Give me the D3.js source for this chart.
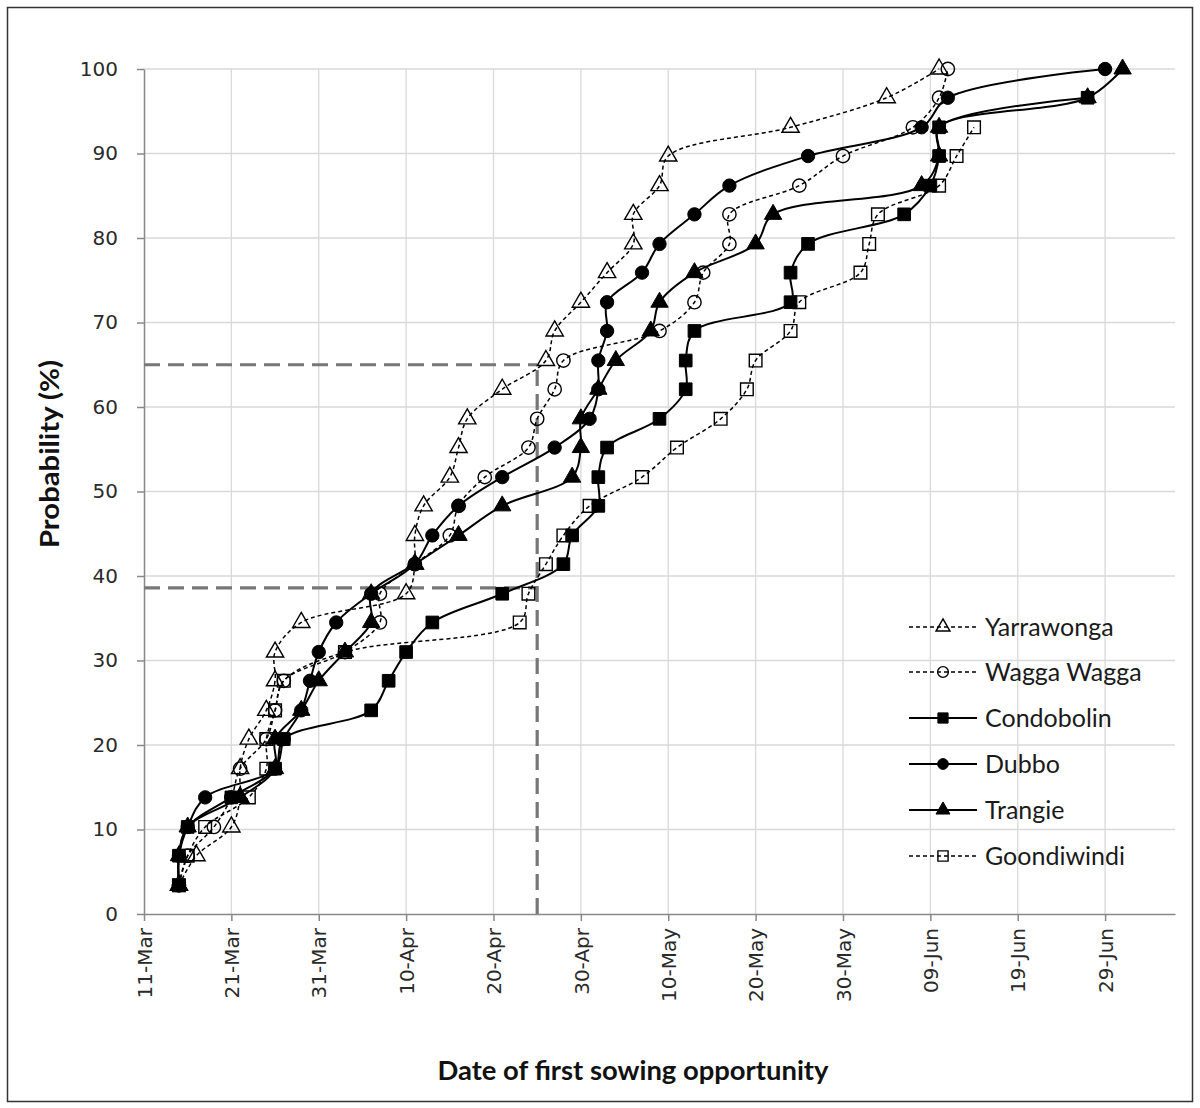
<!DOCTYPE html>
<html><head><meta charset="utf-8">
<script src="https://cdn.jsdelivr.net/npm/d3@7"></script>
<style>body{margin:0;background:#fff}</style>
</head><body>
<svg id="chart" width="1200" height="1108"></svg>
<script>
// ---------------- DATA ----------------
const probability = [3.4, 6.9, 10.3, 13.8, 17.2, 20.7, 24.1, 27.6, 31.0, 34.5, 37.9, 41.4, 44.8, 48.3,
  51.7, 55.2, 58.6, 62.1, 65.5, 69.0, 72.4, 75.9, 79.3, 82.8, 86.2, 89.7, 93.1, 96.6, 100];

const tickLabels = ["11-Mar","21-Mar","31-Mar","10-Apr","20-Apr","30-Apr","10-May","20-May","30-May","09-Jun","19-Jun","29-Jun"];
const yTicks = [0,10,20,30,40,50,60,70,80,90,100];
const axisStart = "11-Mar", axisEnd = "07-Jul";

const seriesNames = ["Yarrawonga","Wagga Wagga","Condobolin","Dubbo","Trangie","Goondiwindi"];

const yarrawonga = ["15-Mar","17-Mar","21-Mar","22-Mar","22-Mar","23-Mar","25-Mar","26-Mar","26-Mar","29-Mar",
  "10-Apr","11-Apr","11-Apr","12-Apr","15-Apr","16-Apr","17-Apr","21-Apr","26-Apr","27-Apr","30-Apr",
  "03-May","06-May","06-May","09-May","10-May","24-May","04-Jun","10-Jun"];
const waggaWagga = ["15-Mar","16-Mar","19-Mar","21-Mar","22-Mar","25-Mar","26-Mar","27-Mar","03-Apr","07-Apr",
  "07-Apr","11-Apr","15-Apr","16-Apr","19-Apr","24-Apr","25-Apr","27-Apr","28-Apr","09-May","13-May",
  "14-May","17-May","17-May","25-May","30-May","07-Jun","10-Jun","11-Jun"];
const condobolin = ["15-Mar","15-Mar","16-Mar","21-Mar","26-Mar","27-Mar","06-Apr","08-Apr","10-Apr","13-Apr",
  "21-Apr","28-Apr","29-Apr","02-May","02-May","03-May","09-May","12-May","12-May","13-May","24-May",
  "24-May","26-May","06-Jun","09-Jun","10-Jun","10-Jun","27-Jun"];
const dubbo = ["15-Mar","15-Mar","16-Mar","18-Mar","26-Mar","27-Mar","29-Mar","30-Mar","31-Mar","02-Apr",
  "06-Apr","11-Apr","13-Apr","16-Apr","21-Apr","27-Apr","01-May","02-May","02-May","03-May","03-May",
  "07-May","09-May","13-May","17-May","26-May","08-Jun","11-Jun","29-Jun"];
const trangie = ["15-Mar","15-Mar","16-Mar","22-Mar","26-Mar","26-Mar","29-Mar","31-Mar","03-Apr","06-Apr",
  "06-Apr","11-Apr","16-Apr","21-Apr","29-Apr","30-Apr","30-Apr","02-May","04-May","08-May","09-May",
  "13-May","20-May","22-May","08-Jun","10-Jun","10-Jun","27-Jun","01-Jul"];
const goondiwindi = ["15-Mar","16-Mar","18-Mar","23-Mar","25-Mar","25-Mar","26-Mar","27-Mar","03-Apr","23-Apr",
  "24-Apr","26-Apr","28-Apr","01-May","07-May","11-May","16-May","19-May","20-May","24-May","25-May",
  "01-Jun","02-Jun","03-Jun","10-Jun","12-Jun","14-Jun"];

const seriesDates = [yarrawonga, waggaWagga, condobolin, dubbo, trangie, goondiwindi];

// reference guide lines
const refProbHigh = 65, refProbLow = 38.6, refDate = "25-Apr";

// ---------------- STYLE ----------------
const styles = [
  {shape:"triangle", filled:false, dashed:true},
  {shape:"circle",   filled:false, dashed:true},
  {shape:"square",   filled:true,  dashed:false},
  {shape:"circle",   filled:true,  dashed:false},
  {shape:"triangle", filled:true,  dashed:false},
  {shape:"square",   filled:false, dashed:true}
];

const parse = d3.timeParse("%d-%b");
const svg = d3.select("#chart");
svg.append("rect").attr("width",1200).attr("height",1108).attr("fill","#fff");
svg.append("rect").attr("x",7.5).attr("y",7.5).attr("width",1185).attr("height",1094)
  .attr("fill","none").attr("stroke","#333").attr("stroke-width",1.5);

const x = d3.scaleTime().domain([parse(axisStart), parse(axisEnd)]).range([144, 1175]);
const y = d3.scaleLinear().domain([0,100]).range([914, 69]);

// gridlines
const grid = svg.append("g");
grid.selectAll("line.v").data(tickLabels.slice(1)).join("line")
  .attr("x1", d=>x(parse(d))).attr("x2", d=>x(parse(d)))
  .attr("y1", y(0)).attr("y2", y(100))
  .attr("stroke","#d9d9d9").attr("stroke-width",1.3);
grid.selectAll("line.h").data(yTicks.slice(1)).join("line")
  .attr("x1", x(parse(axisStart))).attr("x2", x(parse(axisEnd)))
  .attr("y1", d=>y(d)).attr("y2", d=>y(d))
  .attr("stroke","#d9d9d9").attr("stroke-width",1.3);

// axes
const yAxis = svg.append("g").attr("transform",`translate(${x(parse(axisStart))},0)`)
  .call(d3.axisLeft(y).tickValues(yTicks).tickSize(7).tickSizeOuter(0).tickPadding(19));
const xAxis = svg.append("g").attr("transform",`translate(0,${y(0)})`)
  .call(d3.axisBottom(x).tickValues(tickLabels.map(parse)).tickFormat(d3.timeFormat("%d-%b"))
    .tickSize(7).tickSizeOuter(0));
[yAxis, xAxis].forEach(a=>{
  a.select(".domain").attr("stroke","#888").attr("stroke-width",1.5);
  a.selectAll(".tick line").attr("stroke","#888").attr("stroke-width",1.5);
  a.selectAll("text").attr("font-family","'DejaVu Sans', Verdana, sans-serif")
    .attr("font-size",20).attr("fill","#2a2a2a");
});
xAxis.selectAll(".tick text").attr("transform","rotate(-90)").attr("text-anchor","end")
  .attr("x",-14).attr("y",0).attr("dy","0.36em");

// reference dashed lines
const ref = svg.append("g").attr("stroke","#777").attr("stroke-width",3.2)
  .attr("stroke-dasharray","16,8").attr("fill","none");
ref.append("line").attr("x1",x(parse(axisStart))).attr("x2",x(parse(refDate)))
  .attr("y1",y(refProbHigh)).attr("y2",y(refProbHigh));
ref.append("line").attr("x1",x(parse(axisStart))).attr("x2",x(parse(refDate)))
  .attr("y1",y(refProbLow)).attr("y2",y(refProbLow));
ref.append("line").attr("x1",x(parse(refDate))).attr("x2",x(parse(refDate)))
  .attr("y1",y(0)).attr("y2",y(refProbHigh));

// symbols
const symType = {triangle:d3.symbolTriangle, circle:d3.symbolCircle, square:d3.symbolSquare};
const symSize = {triangle:130, circle:140, square:160};
function drawMarker(g, st, size){
  return g.append("path")
    .attr("d", d3.symbol().type(symType[st.shape]).size(size || symSize[st.shape])())
    .attr("fill", st.filled ? "#000" : "none")
    .attr("stroke","#000").attr("stroke-width", st.filled ? 1 : 1.4);
}

const line = d3.line().x(d=>x(d.date)).y(d=>y(d.p)).curve(d3.curveCatmullRom.alpha(0.5));

seriesDates.forEach((dates, i)=>{
  const st = styles[i];
  const pts = dates.map((d,k)=>({date:parse(d), p:probability[k]}));
  const g = svg.append("g");
  g.append("path").datum(pts).attr("d", line).attr("fill","none")
    .attr("stroke","#000").attr("stroke-width", st.dashed ? 1.5 : 2)
    .attr("stroke-dasharray", st.dashed ? "4,3" : null);
  pts.forEach(p=>{
    drawMarker(g, st).attr("transform",`translate(${x(p.date)},${y(p.p)})`);
  });
});

// legend
const legendRowY = [627, 672, 718, 764, 810, 856];
const lg = svg.append("g");
seriesNames.forEach((name,i)=>{
  const st = styles[i];
  const ly = legendRowY[i];
  lg.append("line").attr("x1",909).attr("x2",977).attr("y1",ly).attr("y2",ly)
    .attr("stroke","#000").attr("stroke-width", st.dashed?1.3:2)
    .attr("stroke-dasharray", st.dashed?"4,3":null);
  drawMarker(lg, st, symSize[st.shape]*0.65).attr("transform",`translate(943,${ly})`);
  lg.append("text").attr("x",985).attr("y",ly).attr("dy","0.36em")
    .attr("font-family","Lato, 'Open Sans', sans-serif").attr("font-size",25).attr("fill","#1a1a1a")
    .text(name);
});

// axis titles
svg.append("text").attr("x",633).attr("y",1080).attr("text-anchor","middle")
  .attr("font-family","Lato, 'Open Sans', sans-serif").attr("font-weight","bold").attr("font-size",26)
  .attr("textLength",391).attr("lengthAdjust","spacingAndGlyphs")
  .attr("fill","#111").text("Date of first sowing opportunity");
svg.append("text").attr("transform","translate(59,454) rotate(-90)").attr("text-anchor","middle")
  .attr("font-family","Lato, 'Open Sans', sans-serif").attr("font-weight","bold").attr("font-size",26)
  .attr("textLength",188).attr("lengthAdjust","spacingAndGlyphs")
  .attr("fill","#111").text("Probability (%)");
</script>
</body></html>
